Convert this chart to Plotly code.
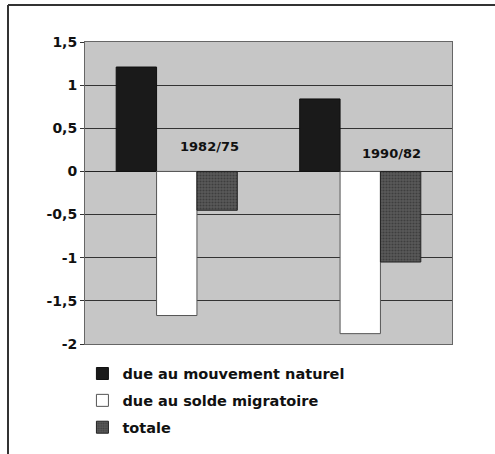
import plotly.graph_objects as go

periods = ["1982/75", "1990/82"]
naturel = [1.21, 0.84]
migratoire = [-1.67, -1.88]
totale = [-0.45, -1.05]
series_names = ["due au mouvement naturel", "due au solde migratoire", "totale"]
tick_vals = [1.5, 1, 0.5, 0, -0.5, -1, -1.5, -2]
tick_text = ["1,5", "1", "0,5", "0", "-0,5", "-1", "-1,5", "-2"]
label_x = [0.18, 1.17]
label_y = [0.29, 0.21]

FONT = "DejaVu Sans"
xs = [0, 1]

fig = go.Figure()
fig.add_trace(go.Bar(x=xs, y=naturel, name=series_names[0], legendgroup="a",
                     marker=dict(color="#1a1a1a", line=dict(color="#111", width=1))))
fig.add_trace(go.Bar(x=xs, y=migratoire, name=series_names[1], legendgroup="b",
                     marker=dict(color="#ffffff", line=dict(color="#555", width=1))))
fig.add_trace(go.Bar(x=xs, y=totale, name=series_names[2], legendgroup="c",
                     marker=dict(color="#4a4a4a", line=dict(color="#222", width=1),
                                 pattern=dict(shape=".", bgcolor="#5a5a5a", fgcolor="#222",
                                              size=3, solidity=0.4))))

for i, p in enumerate(periods):
    fig.add_annotation(x=label_x[i], y=label_y[i], xref="x", yref="y", text=p,
                       showarrow=False,
                       font=dict(family=FONT, size=13, color="#111", weight="bold"))

# outer frame
fig.add_shape(type="line", xref="paper", yref="paper", x0=-0.2098, x1=1.12,
              y0=1.1225, y1=1.1225, line=dict(color="#333", width=2))
fig.add_shape(type="line", xref="paper", yref="paper", x0=-0.2098, x1=-0.2098,
              y0=1.1225, y1=-0.37, line=dict(color="#333", width=2))

fig.update_layout(
    width=495, height=454,
    margin=dict(l=85, r=43, t=42, b=110, autoexpand=False),
    paper_bgcolor="white",
    plot_bgcolor="#c6c6c6",
    barmode="group", bargap=0.34, bargroupgap=0,
    showlegend=True,
    legend=dict(x=-0.007, y=-0.045, xanchor="left", yanchor="top",
                traceorder="grouped", tracegroupgap=5,
                font=dict(family=FONT, size=14.5, color="#111", weight="bold"),
                bgcolor="rgba(0,0,0,0)", itemclick=False),
    font=dict(family=FONT, color="#111"),
)
fig.update_xaxes(range=[-0.5, 1.5], showticklabels=False, showgrid=False,
                 zeroline=False, showline=True, linecolor="#666", linewidth=1,
                 mirror=True, ticks="", automargin=False)
fig.update_yaxes(range=[-2, 1.5], tickvals=tick_vals, ticktext=tick_text,
                 showgrid=True, gridcolor="#333", gridwidth=1,
                 zeroline=True, zerolinecolor="#222", zerolinewidth=1,
                 showline=True, linecolor="#666", linewidth=1, mirror=True,
                 ticks="outside", ticklen=4, tickcolor="#333", automargin=False,
                 tickfont=dict(family=FONT, size=14, color="#111", weight="bold"))

fig.write_html("out.html", config={"displayModeBar": False, "staticPlot": True},
               post_script="document.body.style.margin='0';document.body.style.overflow='hidden';")
